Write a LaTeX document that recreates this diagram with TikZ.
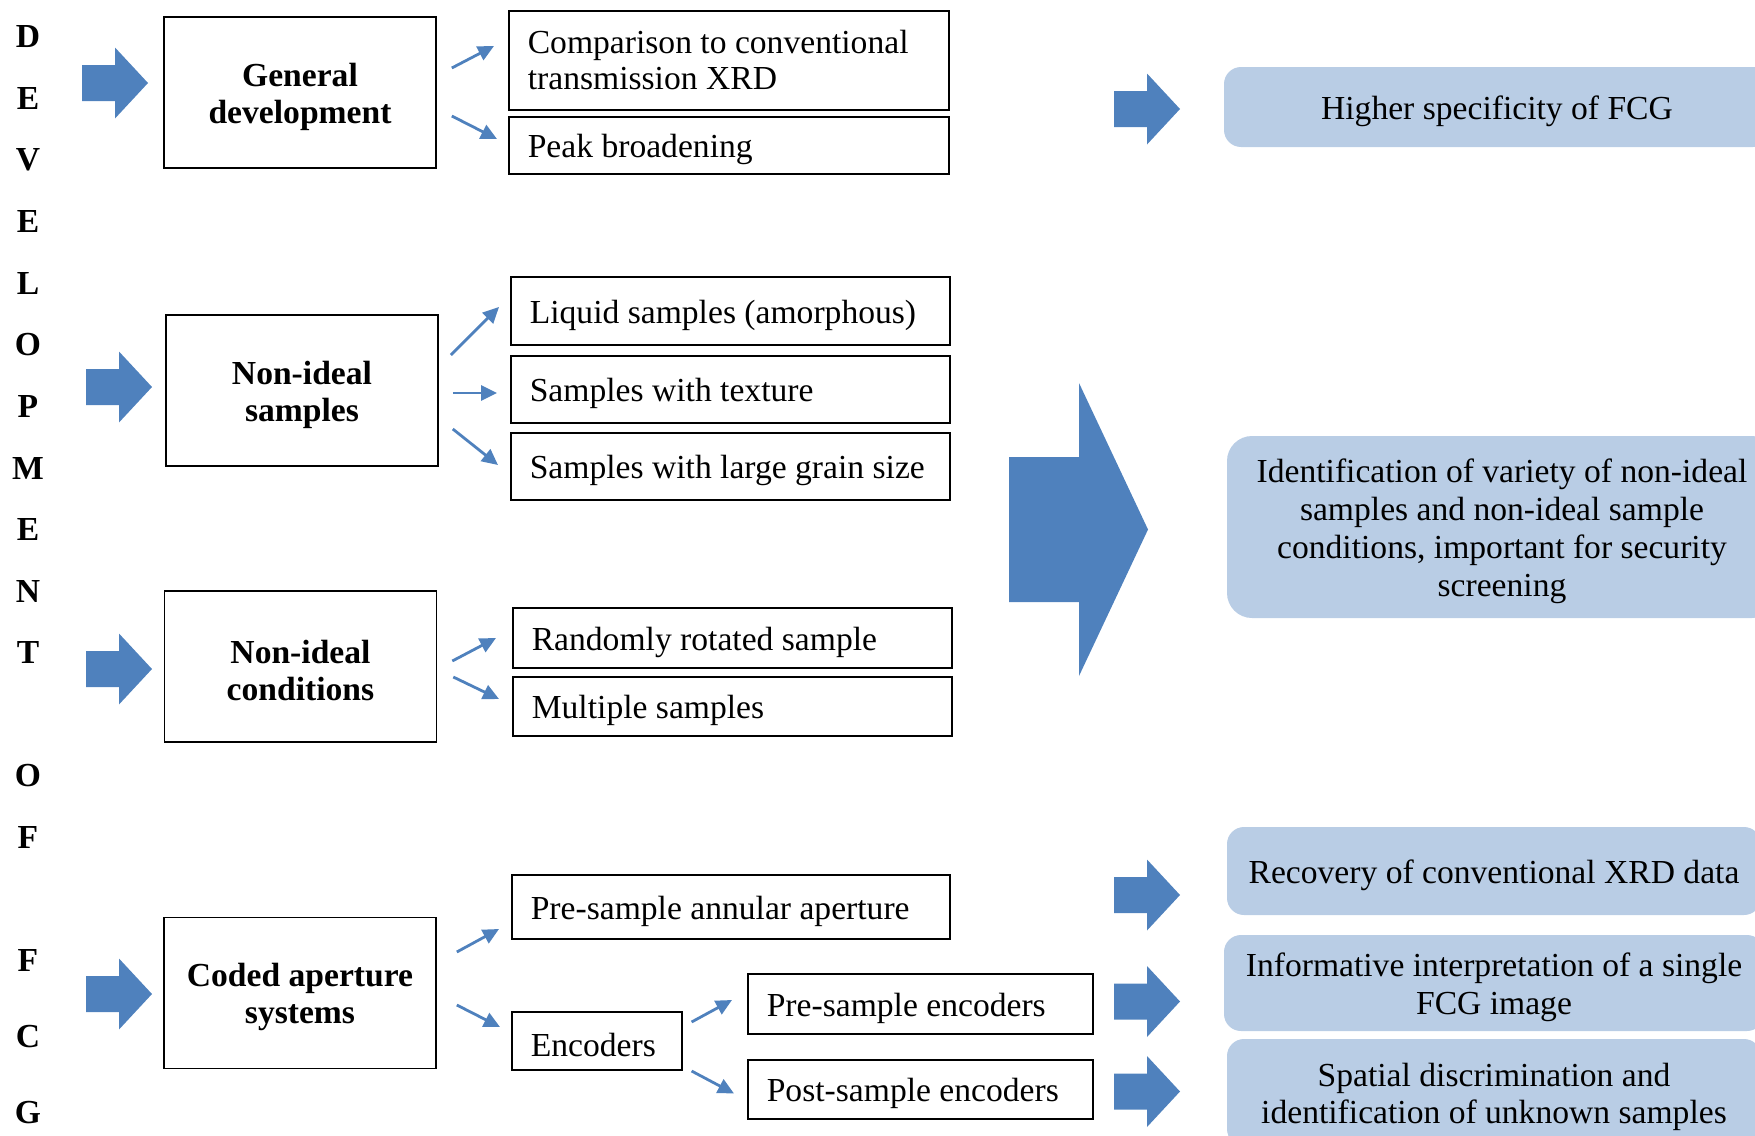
\documentclass[tikz,border=0pt]{standalone}
\usepackage{fontspec}
\setmainfont{Liberation Serif}
\usepackage{tikz}
\usetikzlibrary{arrows.meta, calc}
\definecolor{blockblue}{RGB}{79,129,189}
\definecolor{paleblue}{RGB}{185,205,229}

\begin{document}
\begin{tikzpicture}[x=0.5pt, y=-0.5pt,
    every node/.style={font=\fontsize{16.8}{18}\selectfont},
    lowtext/.style={execute at begin node={\rule{0pt}{16pt}}},
    topicbox/.style={draw, line width=0.8pt, align=flush center, lowtext, text width=124pt, font=\fontsize{16.8}{18.5}\selectfont\bfseries, minimum width=136pt, minimum height=75.5pt},
    itembox/.style={draw, line width=0.8pt, align=flush left, inner xsep=9.5pt, anchor=west},
    itemline/.style={itembox, lowtext},
    resultbox/.style={fill=paleblue, rounded corners=8.5pt, align=flush center, lowtext, inner xsep=4pt, font=\fontsize{16.8}{18.9}\selectfont},
    link/.style={blockblue, line width=1.4pt, -{Triangle[length=8pt, width=7.5pt]}}]
  \path[use as bounding box] (0,0) rectangle (1755,1135);
  \clip (0,0) rectangle (1755,1135);

  \foreach \ch/\yy [count=\i] in {D/37, E/98.5, V/160, E/221.6, L/283, O/344.7, P/406, M/468, E/529, N/591, T/652.5, O/776, F/837, F/960, C/1036.5, G/1112.6}
    \node[font=\fontsize{16.8}{18}\selectfont\bfseries, inner sep=0pt] (c\i) at (28,\yy) {\ch};

  \foreach \ax/\ay in {82/83, 86/387, 86/669, 86/994, 1114/109, 1114/895, 1114/1001.5, 1114/1091.5}
    \fill[blockblue] (\ax,\ay-18) -- (\ax+33,\ay-18) -- (\ax+33,\ay-35.5) -- (\ax+66,\ay) -- (\ax+33,\ay+35.5) -- (\ax+33,\ay+18) -- (\ax,\ay+18) -- cycle;
  \fill[blockblue] (1009,457) -- (1079,457) -- (1079,383) -- (1148,529.5) -- (1079,676) -- (1079,602) -- (1009,602) -- cycle;

  \node[topicbox] (gen) at (300,92.5) {General\\development};
  \node[topicbox] (nis) at (302,390.5) {Non-ideal\\samples};
  \node[topicbox] (nic) at (300.5,666.5) {Non-ideal\\conditions};
  \node[topicbox] (cas) at (300,993) {Coded aperture\\systems};

  \node[itembox, text width=201pt, minimum height=49.5pt] (comp) at (508,60.5) {Comparison to conventional\\transmission XRD};
  \node[itemline, text width=201pt, minimum height=28.5pt] (peak) at (508,145.5) {Peak broadening};
  \node[itemline, text width=200.5pt, minimum height=34pt] (liq) at (510,311) {Liquid samples (amorphous)};
  \node[itemline, text width=200.5pt, minimum height=33.5pt] (tex) at (510,389.5) {Samples with texture};
  \node[itemline, text width=200.5pt, minimum height=33.5pt] (grain) at (510,466.5) {\mbox{Samples with large grain size}};
  \node[itemline, text width=200.5pt, minimum height=30pt] (rot) at (512,638) {Randomly rotated sample};
  \node[itemline, text width=200.5pt, minimum height=29.5pt] (mult) at (512,706.5) {Multiple samples};
  \node[itemline, text width=200pt, minimum height=32pt] (ann) at (511,907) {Pre-sample annular aperture};
  \node[itemline, text width=66pt, minimum height=29pt] (enc) at (511,1041) {Encoders};
  \node[itemline, text width=153.5pt, minimum height=30pt] (preenc) at (747,1004) {Pre-sample encoders};
  \node[itemline, text width=153.5pt, minimum height=29.5pt] (postenc) at (747,1089.5) {Post-sample encoders};

  \node[resultbox, text width=265pt, minimum height=40pt] (spec) at (1497,107) {Higher specificity of FCG};
  \node[resultbox, rounded corners=12.5pt, text width=267pt, minimum height=91pt] (ident) at (1502,527) {Identification of variety of non-ideal\\samples and non-ideal sample\\conditions, important for security\\screening};
  \node[resultbox, text width=259pt, minimum height=44pt] (rec) at (1494,871) {Recovery of conventional XRD data};
  \node[resultbox, text width=262pt, minimum height=48pt] (inf) at (1494,983) {Informative interpretation of a single\\FCG image};
  \node[resultbox, text width=259pt, minimum height=53.5pt] (spa) at (1494,1092.5) {Spatial discrimination and\\identification of unknown samples};

  \draw[link] ($(gen.east)+(15,-24.5)$) -- ($(comp.west)+(-14,-14.5)$);
  \draw[link] ($(gen.east)+(15,23.5)$) -- ($(peak.west)+(-11,-6.5)$);
  \draw[link] ($(nis.east)+(12,-35.5)$) -- ($(liq.west)+(-11,-4)$);
  \draw[link] ($(nis.east)+(14,2.5)$) -- ($(tex.west)+(-13,3.5)$);
  \draw[link] ($(nis.east)+(14,38.5)$) -- ($(grain.west)+(-12,-1.5)$);
  \draw[link] ($(nic.east)+(15,-5.5)$) -- ($(rot.west)+(-16,0)$);
  \draw[link] ($(nic.east)+(16,10.5)$) -- ($(mult.west)+(-13,-7.5)$);
  \draw[link] ($(cas.east)+(20,-41)$) -- ($(ann.west)+(-12,22)$);
  \draw[link] ($(cas.east)+(20,12)$) -- ($(enc.west)+(-11,-14)$);
  \draw[link] ($(enc.east)+(9,-19)$) -- ($(preenc.west)+(-15,-4)$);
  \draw[link] ($(enc.east)+(9,30)$) -- ($(postenc.west)+(-13,4)$);
\end{tikzpicture}
\end{document}
